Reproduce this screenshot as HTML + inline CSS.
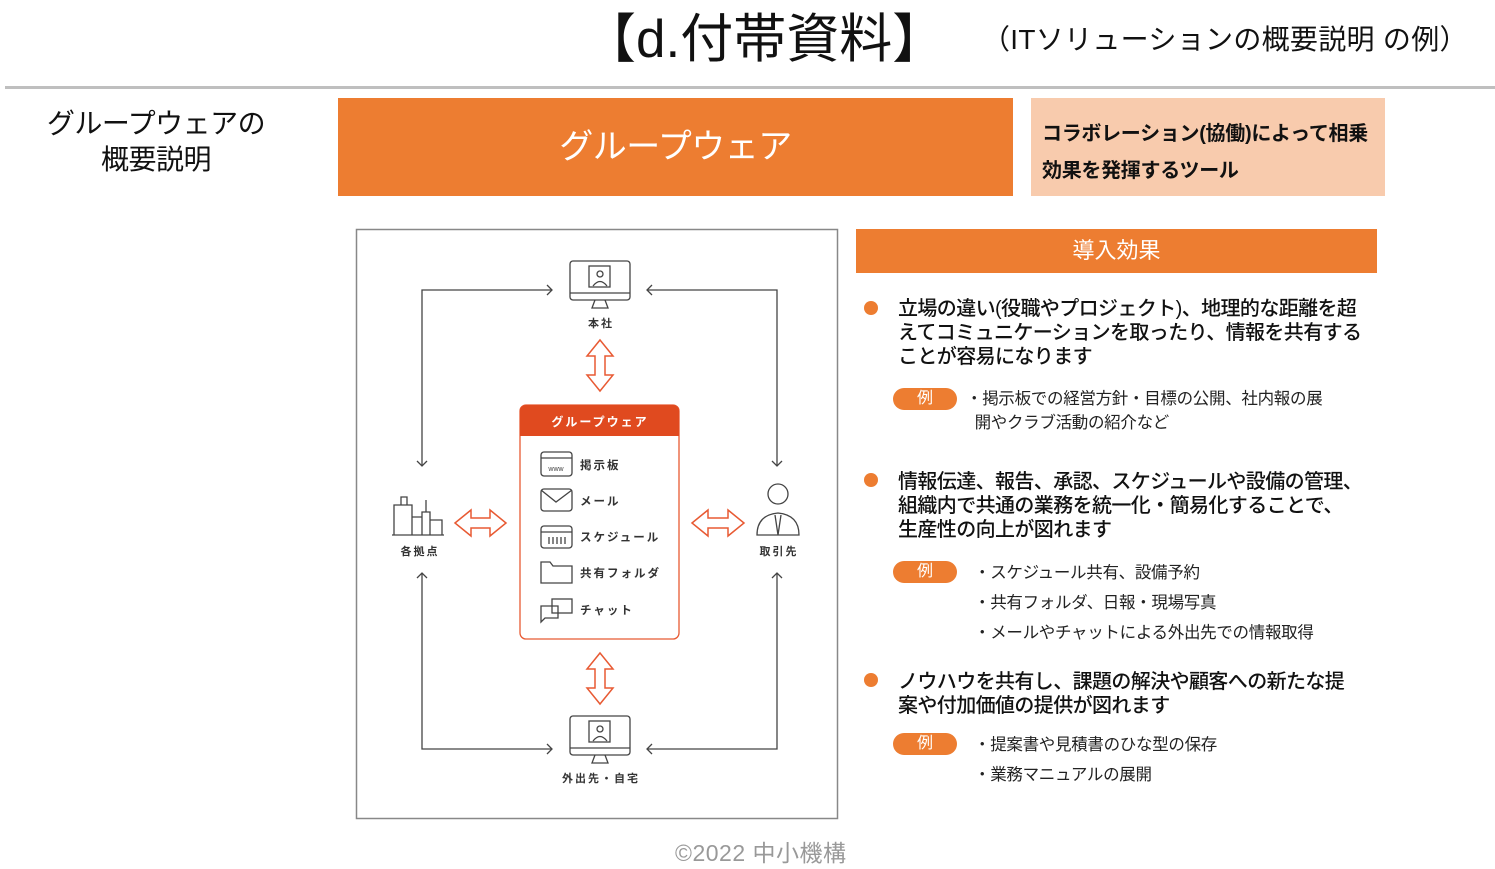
<!DOCTYPE html>
<html><head><meta charset="utf-8"><style>
body{margin:0;width:1495px;height:869px;background:#fff;position:relative;overflow:hidden;font-family:"Liberation Sans","Noto Sans CJK JP",sans-serif;color:#111}
.a{position:absolute;white-space:nowrap}
.dot{position:absolute;width:14px;height:14px;border-radius:50%;background:#ED7D31}
.pill{position:absolute;width:64px;height:22px;border-radius:11px;background:#ED7D31;color:#fff;font-size:16px;text-align:center;line-height:22px}
.b{font-size:20px;line-height:24px;font-weight:500;letter-spacing:-0.6px}
.s{font-size:16.5px;line-height:24px;color:#222;letter-spacing:-0.3px}
</style></head><body>
<div class="a" style="left:583px;top:8px;font-size:53px;line-height:64px">【d.付帯資料】</div>
<div class="a" style="left:982px;top:22px;font-size:28px;line-height:36px;letter-spacing:0.3px">（ITソリューションの概要説明 の例）</div>
<div class="a" style="left:5px;top:86px;width:1490px;height:3px;background:#bfbfbf"></div>
<div class="a" style="left:44px;top:106px;width:224px;text-align:center;font-size:28px;line-height:36px;letter-spacing:-0.5px">グループウェアの<br>概要説明</div>
<div class="a" style="left:338px;top:98px;width:675px;height:98px;background:#ED7D31;color:#fff;font-size:34px;line-height:98px;text-align:center;letter-spacing:-0.5px">グループウェア</div>
<div class="a" style="left:1031px;top:98px;width:354px;height:98px;background:#F8CBAD"></div>
<div class="a" style="left:1042px;top:116px;font-size:20px;line-height:37px;font-weight:bold;letter-spacing:-0.3px">コラボレーション(協働)によって相乗<br>効果を発揮するツール</div>
<div class="a" style="left:856px;top:229px;width:521px;height:44px;background:#ED7D31;color:#fff;font-size:22px;line-height:44px;text-align:center">導入効果</div>

<div class="dot" style="left:864px;top:301px"></div>
<div class="a b" style="left:898px;top:297px">立場の違い(役職やプロジェクト)、地理的な距離を超<br>えてコミュニケーションを取ったり、情報を共有する<br>ことが容易になります</div>
<div class="pill" style="left:893px;top:388px">例</div>
<div class="a s" style="left:966px;top:387px">・掲示板での経営方針・目標の公開、社内報の展<br>&nbsp;&nbsp;開やクラブ活動の紹介など</div>

<div class="dot" style="left:864px;top:473px"></div>
<div class="a b" style="left:898px;top:470px">情報伝達、報告、承認、スケジュールや設備の管理、<br>組織内で共通の業務を統一化・簡易化することで、<br>生産性の向上が図れます</div>
<div class="pill" style="left:893px;top:561px">例</div>
<div class="a s" style="left:974px;top:558px;line-height:30px">・スケジュール共有、設備予約<br>・共有フォルダ、日報・現場写真<br>・メールやチャットによる外出先での情報取得</div>

<div class="dot" style="left:864px;top:673px"></div>
<div class="a b" style="left:898px;top:670px">ノウハウを共有し、課題の解決や顧客への新たな提<br>案や付加価値の提供が図れます</div>
<div class="pill" style="left:893px;top:733px">例</div>
<div class="a s" style="left:974px;top:730px;line-height:30px">・提案書や見積書のひな型の保存<br>・業務マニュアルの展開</div>

<div class="a" style="left:675px;top:834px;font-size:23px;color:#999;letter-spacing:0.5px">©2022 中小機構</div>

<svg class="a" style="left:0;top:0" width="1495" height="869">
<rect x="356.5" y="229.5" width="481" height="589" fill="none" stroke="#888" stroke-width="1.5"/>
<rect x="520" y="405" width="159" height="234" rx="6" fill="#fff" stroke="#E85A33" stroke-width="1.3"/>
<path d="M520 436 V411 a6 6 0 0 1 6-6 H673 a6 6 0 0 1 6 6 V436 Z" fill="#E04A1F"/>
<text x="600" y="426" font-family="Liberation Sans,Noto Sans CJK JP,sans-serif" font-size="12" font-weight="bold" fill="#fff" text-anchor="middle" letter-spacing="2">グループウェア</text>
<g fill="none" stroke="#444" stroke-width="1.3">
<polyline points="422,466 422,290 552,290"/><polyline points="547,285 552,290 547,295"/>
<polyline points="417,461 422,466 427,461"/>
<polyline points="777,466 777,290 647,290"/><polyline points="652,285 647,290 652,295"/>
<polyline points="772,461 777,466 782,461"/>
<polyline points="422,573 422,749 552,749"/><polyline points="547,744 552,749 547,754"/>
<polyline points="417,578 422,573 427,578"/>
<polyline points="777,573 777,749 647,749"/><polyline points="652,744 647,749 652,754"/>
<polyline points="772,578 777,573 782,578"/>
<rect x="570" y="261" width="60" height="39" rx="3"/><line x1="570" y1="293" x2="630" y2="293"/>
<path d="M595 300 L592 308 L608 308 L605 300"/><rect x="589" y="266" width="21" height="21"/><circle cx="600" cy="274" r="3"/><path d="M593 286 q7-9 14 0"/>
<rect x="570" y="716" width="60" height="39" rx="3"/><line x1="570" y1="748" x2="630" y2="748"/>
<path d="M595 755 L592 763 L608 763 L605 755"/><rect x="589" y="721" width="21" height="21"/><circle cx="600" cy="729" r="3"/><path d="M593 741 q7-9 14 0"/>
<path d="M394 535 V505 H412 V535 M401 505 V497 H407 V505 M412 535 V517 H422 V535 M422 535 V512 H430 V535 M430 535 V520 H442 V535 M392 535 H444 M426 512 V500"/>
<circle cx="778" cy="494" r="10"/><path d="M757 535 q0-20 21-22 q21 2 21 22 Z M775 515 L778 535 L781 515"/>
<rect x="541" y="452" width="31" height="24" rx="3"/><line x1="541" y1="458" x2="572" y2="458"/>
<text x="556" y="471" font-size="7" stroke="none" fill="#444" text-anchor="middle" font-family="Liberation Sans">www</text>
<rect x="541" y="489" width="31" height="22" rx="3"/><polyline points="541,490 556,502 572,490"/>
<rect x="541" y="526" width="31" height="22" rx="3"/><line x1="541" y1="532" x2="572" y2="532"/>
<path d="M549 537 v7 M553 537 v7 M557 537 v7 M561 537 v7 M565 537 v7"/>
<path d="M541 566 V583 H572 V566 H553 L550 562 H541 Z"/>
<rect x="552" y="599" width="20" height="14"/><path d="M541 606 H558 V618 H545 L541 622 Z"/>
</g>
<g font-family="Liberation Sans,Noto Sans CJK JP,sans-serif" font-size="11" font-weight="bold" fill="#333" text-anchor="middle" letter-spacing="2">
<text x="601" y="327">本社</text><text x="601" y="782">外出先・自宅</text>
<text x="420" y="555">各拠点</text><text x="779" y="555">取引先</text>
</g>
<g font-family="Liberation Sans,Noto Sans CJK JP,sans-serif" font-size="11.5" font-weight="bold" fill="#333" letter-spacing="2">
<text x="580" y="469">掲示板</text><text x="580" y="505">メール</text><text x="580" y="541">スケジュール</text><text x="580" y="577">共有フォルダ</text><text x="580" y="614">チャット</text>
</g>
<g fill="#fff" stroke="#E85A33" stroke-width="1.5">
<path d="M600 340 L613 356 L605 356 L605 375 L613 375 L600 391 L587 375 L595 375 L595 356 L587 356 Z"/>
<path d="M600 653 L613 669 L605 669 L605 688 L613 688 L600 704 L587 688 L595 688 L595 669 L587 669 Z"/>
<path d="M455 523 L471 510 L471 518 L490 518 L490 510 L506 523 L490 536 L490 528 L471 528 L471 536 Z"/>
<path d="M692 523 L708 510 L708 518 L728 518 L728 510 L744 523 L728 536 L728 528 L708 528 L708 536 Z"/>
</g>
</svg>
</body></html>
